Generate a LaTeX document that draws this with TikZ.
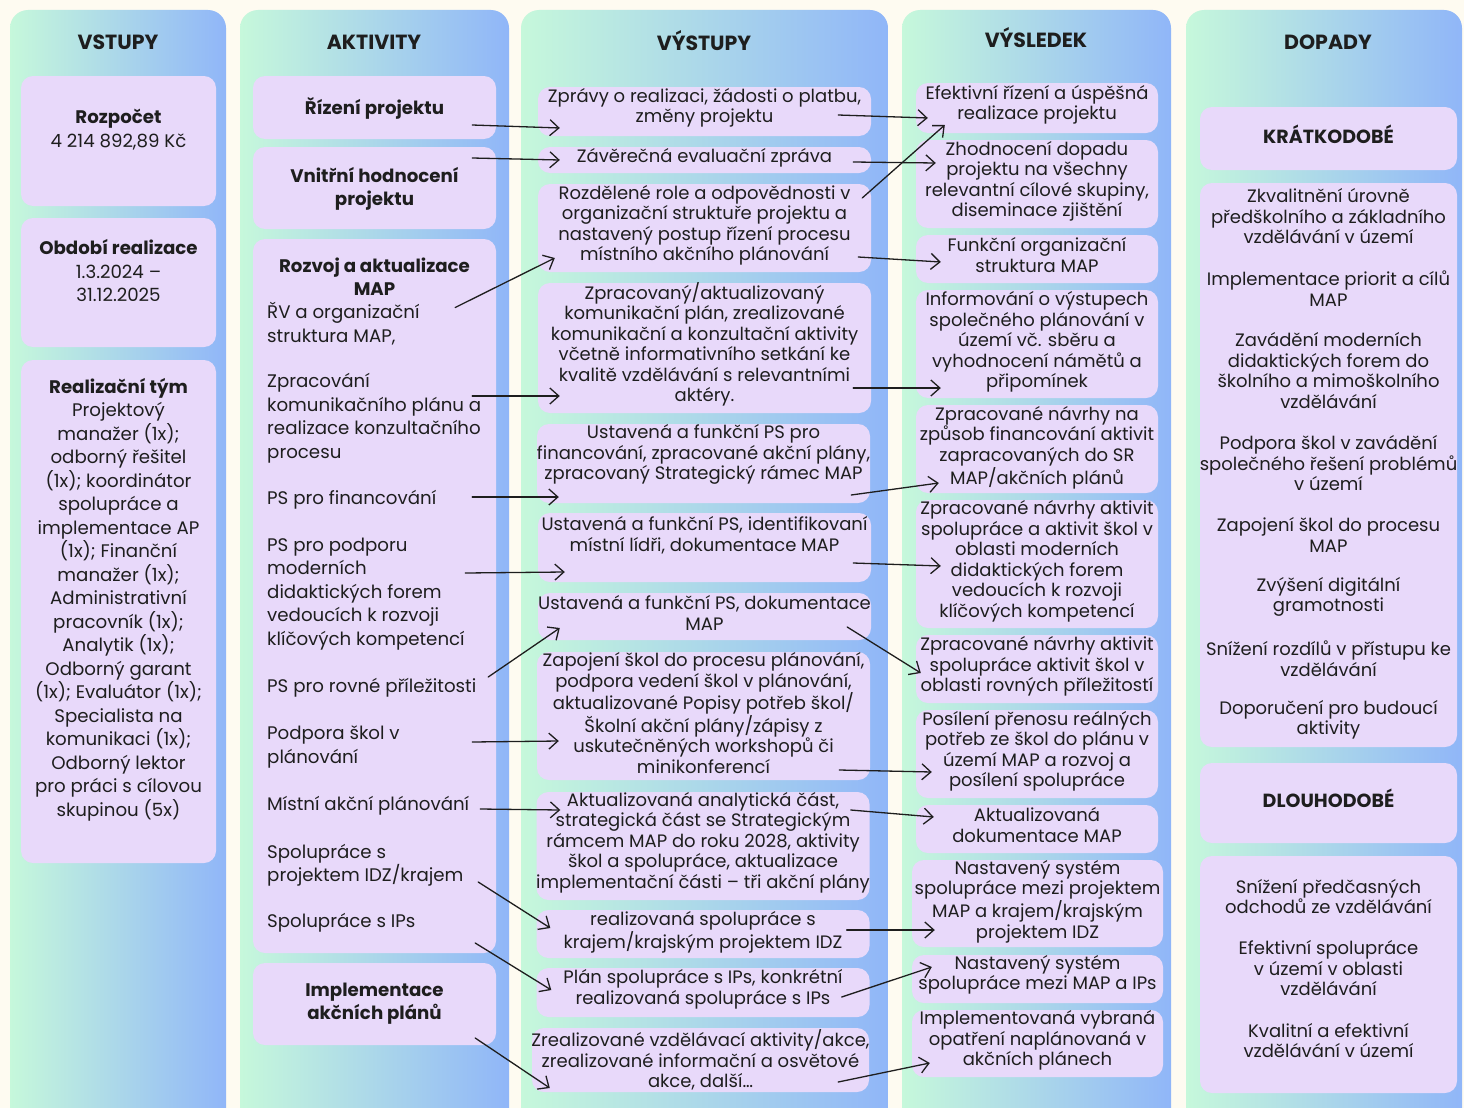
\documentclass[tikz,border=0pt]{standalone}
\usepackage{fontspec}
\setmainfont{Poppins}
\usetikzlibrary{positioning,arrows.meta,calc}

\definecolor{bgcream}{HTML}{FEFBF1}
\definecolor{colgreen}{HTML}{C6F8DB}
\definecolor{colblue}{HTML}{90B6F8}
\definecolor{boxlilac}{HTML}{E8D9FA}
\definecolor{inkgray}{HTML}{1E1E1E}

\tikzset{
  column/.style={left color=colgreen, right color=colblue, rounded corners=18pt},
  box/.style={fill=boxlilac, rounded corners=12pt, inner sep=0pt},
  txt/.style={align=center, inner sep=0pt, yshift=-2pt, text=inkgray, font=\fontsize{18}{20.5}\selectfont},
  bigtxt/.style={txt, font=\fontsize{18.2}{23.5}\selectfont},
  item/.style={bigtxt, align=left, anchor=west},
  head/.style={inner sep=0pt, text=inkgray, font=\fontsize{20.5}{22}\selectfont\bfseries},
  sketch/.style={-{Straight Barb[length=9pt,width=16pt]}, line width=1.3pt, draw=inkgray, line cap=round}
}

\begin{document}
\begin{tikzpicture}[x=1pt,y=-1pt]
\fill[bgcream] (0,0) rectangle (1464,1108);
\clip (0,0) rectangle (1464,1108);

% columns
\shade[column] (10,10) rectangle (226,1140);
\shade[column] (240,10) rectangle (509,1140);
\shade[column] (521,10) rectangle (888,1140);
\shade[column] (902,10) rectangle (1171,1140);
\shade[column] (1186,10) rectangle (1462,1140);

\node[head] (hin) at (118,42) {VSTUPY};
\node[head] (hakt) at (374,42) {AKTIVITY};
\node[head] (hout) at (704,40.5) {VÝSTUPY};
\node[head] (hres) at (1036,37.5) {VÝSLEDEK};
\node[head] (himp) at (1328,42) {DOPADY};

% vstupy
\node[box, minimum width=195pt, minimum height=130pt] (in1) at (118.5,141) {};
\node[bigtxt] (in1t) at (118.5,127.5) {\textbf{Rozpočet}\\4 214 892,89 Kč};
\node[box, minimum width=195pt, minimum height=129pt] (in2) at (118.5,282.5) {};
\node[bigtxt] (in2t) at (118.5,268.5) {\textbf{Období realizace}\\1.3.2024 –\\31.12.2025};
\node[box, minimum width=195pt, minimum height=503pt] (in3) at (118.5,611.5) {};
\node[bigtxt] (in3t) at (118.5,597.5) {\textbf{Realizační tým}\\Projektový\\manažer (1x);\\odborný řešitel\\(1x); koordinátor\\spolupráce a\\implementace AP\\(1x); Finanční\\manažer (1x);\\Administrativní\\pracovník (1x);\\Analytik (1x);\\Odborný garant\\(1x); Evaluátor (1x);\\Specialista na\\komunikaci (1x);\\Odborný lektor\\pro práci s cílovou\\skupinou (5x)};

% aktivity
\node[box, minimum width=243pt, minimum height=63pt] (a1) at (374.5,107.5) {};
\node[bigtxt] (a1t) at (374.5,106) {\textbf{Řízení projektu}};
\node[box, minimum width=243pt, minimum height=82pt] (a2) at (374.5,188) {};
\node[bigtxt] (a2t) at (374.5,187) {\textbf{Vnitřní hodnocení}\\\textbf{projektu}};
\node[box, minimum width=243pt, minimum height=714pt] (a3) at (374.5,596) {};
\node[bigtxt] (a3t) at (374.5,274.5) {\textbf{Rozvoj a aktualizace}\\\textbf{MAP}};
\node[item] (i1) at (267,321.5) {ŘV a organizační\\struktura MAP,};
\node[item] (i2) at (267,416) {Zpracování\\komunikačního plánu a\\realizace konzultačního\\procesu};
\node[item] (i3) at (267,498) {PS pro financování};
\node[item] (i4) at (267,592) {PS pro podporu\\moderních\\didaktických forem\\vedoucích k rozvoji\\klíčových kompetencí};
\node[item] (i5) at (267,686) {PS pro rovné příležitosti};
\node[item] (i6) at (267,745) {Podpora škol v\\plánování};
\node[item] (i7) at (267,804) {Místní akční plánování};
\node[item] (i8) at (267,863) {Spolupráce s\\projektem IDZ/krajem};
\node[item] (i9) at (267,921) {Spolupráce s IPs};
\node[box, minimum width=243pt, minimum height=82pt] (a4) at (374.5,1004) {};
\node[bigtxt] (a4t) at (374.5,1001.5) {\textbf{Implementace}\\\textbf{akčních plánů}};

% vystupy
\node[box, minimum width=333pt, minimum height=49pt] (o1) at (704.5,111.5) {};
\node[txt] (o1t) at (704.5,106) {Zprávy o realizaci, žádosti o platbu,\\změny projektu};
\node[box, minimum width=333pt, minimum height=26pt] (o2) at (704.5,160) {};
\node[txt] (o2t) at (704.5,155.5) {Závěrečná evaluační zpráva};
\node[box, minimum width=333pt, minimum height=88pt] (o3) at (704.5,228) {};
\node[txt] (o3t) at (704.5,223.5) {Rozdělené role a odpovědnosti v\\organizační struktuře projektu a\\nastavený postup řízení procesu\\místního akčního plánování};
\node[box, minimum width=333pt, minimum height=130pt] (o4) at (704.5,348) {};
\node[txt] (o4t) at (704.5,342.5) {Zpracovaný/aktualizovaný\\komunikační plán, zrealizované\\komunikační a konzultační aktivity\\včetně informativního setkání ke\\kvalitě vzdělávání s relevantními\\aktéry.};
\node[box, minimum width=333pt, minimum height=79pt] (o5) at (703.5,463.5) {};
\node[txt] (o5t) at (703.5,452.5) {Ustavená a funkční PS pro\\financování, zpracované akční plány,\\zpracovaný Strategický rámec MAP};
\node[box, minimum width=333pt, minimum height=69pt] (o6) at (704.5,547.5) {};
\node[txt] (o6t) at (704.5,533) {Ustavená a funkční PS, identifikovaní\\místní lídři, dokumentace MAP};
\node[box, minimum width=333pt, minimum height=47pt] (o7) at (704.5,616.5) {};
\node[txt] (o7t) at (704.5,611) {Ustavená a funkční PS, dokumentace\\MAP};
\node[box, minimum width=333pt, minimum height=128pt] (o8) at (703.5,716) {};
\node[txt] (o8t) at (703.5,711) {Zapojení škol do procesu plánování,\\podpora vedení škol v plánování,\\aktualizované Popisy potřeb škol/\\Školní akční plány/zápisy z\\uskutečněných workshopů či\\minikonferencí};
\node[box, minimum width=333pt, minimum height=108pt] (o9) at (703,846) {};
\node[txt] (o9t) at (703,840.5) {Aktualizovaná analytická část,\\strategická část se Strategickým\\rámcem MAP do roku 2028, aktivity\\škol a spolupráce, aktualizace\\implementační části – tři akční plány};
\node[box, minimum width=333pt, minimum height=48pt] (o10) at (703,934) {};
\node[txt] (o10t) at (703,930) {realizovaná spolupráce s\\krajem/krajským projektem IDZ};
\node[box, minimum width=333pt, minimum height=49pt] (o11) at (703,992.5) {};
\node[txt] (o11t) at (703,987.5) {Plán spolupráce s IPs, konkrétní\\realizovaná spolupráce s IPs};
\node[box, minimum width=337pt, minimum height=64pt] (o12) at (700.5,1060) {};
\node[txt] (o12t) at (700.5,1058) {Zrealizované vzdělávací aktivity/akce,\\zrealizované informační a osvětové\\akce, další…};

% vysledek
\node[box, minimum width=242pt, minimum height=50pt] (r1) at (1037,108) {};
\node[txt] (r1t) at (1037,103) {Efektivní řízení a úspěšná\\realizace projektu};
\node[box, minimum width=242pt, minimum height=88pt] (r2) at (1037,184) {};
\node[txt] (r2t) at (1037,179.5) {Zhodnocení dopadu\\projektu na všechny\\relevantní cílové skupiny,\\diseminace zjištění};
\node[box, minimum width=242pt, minimum height=48pt] (r3) at (1037,259) {};
\node[txt] (r3t) at (1037,253) {Funkční organizační\\struktura MAP};
\node[box, minimum width=242pt, minimum height=108pt] (r4) at (1037,344) {};
\node[txt] (r4t) at (1037,340) {Informování o výstupech\\společného plánování v\\území vč. sběru a\\vyhodnocení námětů a\\připomínek};
\node[box, minimum width=242pt, minimum height=88pt] (r5) at (1037,449) {};
\node[txt] (r5t) at (1037,445.5) {Zpracované návrhy na\\způsob financování aktivit\\zapracovaných do SR\\MAP/akčních plánů};
\node[box, minimum width=242pt, minimum height=128pt] (r6) at (1037,564) {};
\node[txt] (r6t) at (1037,559.5) {Zpracované návrhy aktivit\\spolupráce a aktivit škol v\\oblasti moderních\\didaktických forem\\vedoucích k rozvoji\\klíčových kompetencí};
\node[box, minimum width=242pt, minimum height=68pt] (r7) at (1037,669) {};
\node[txt] (r7t) at (1037,664.5) {Zpracované návrhy aktivit\\spolupráce aktivit škol v\\oblasti rovných příležitostí};
\node[box, minimum width=242pt, minimum height=88pt] (r8) at (1037,754) {};
\node[txt] (r8t) at (1037,749.5) {Posílení přenosu reálných\\potřeb ze škol do plánu v\\území MAP a rozvoj a\\posílení spolupráce};
\node[box, minimum width=242pt, minimum height=48pt] (r9) at (1037,829) {};
\node[txt] (r9t) at (1037,823) {Aktualizovaná\\dokumentace MAP};
\node[box, minimum width=251pt, minimum height=87pt] (r10) at (1037.5,903.5) {};
\node[txt] (r10t) at (1037.5,899.5) {Nastavený systém\\spolupráce mezi projektem\\MAP a krajem/krajským\\projektem IDZ};
\node[box, minimum width=251pt, minimum height=48pt] (r11) at (1037.5,979) {};
\node[txt] (r11t) at (1037.5,973) {Nastavený systém\\spolupráce mezi MAP a IPs};
\node[box, minimum width=251pt, minimum height=67pt] (r12) at (1037.5,1043.5) {};
\node[txt] (r12t) at (1037.5,1038.5) {Implementovaná vybraná\\opatření naplánovaná v\\akčních plánech};

% dopady
\node[box, minimum width=257pt, minimum height=63pt] (d1) at (1328.5,138.5) {};
\node[txt, font=\fontsize{19}{20.5}\selectfont\bfseries] (d1t) at (1328.5,132) {KRÁTKODOBÉ};
\node[box, minimum width=257pt, minimum height=564pt] (d2) at (1328.5,465) {};
\node[txt] (k1) at (1328.5,214.5) {Zkvalitnění úrovně\\předškolního a základního\\vzdělávání v území};
\node[txt] (k2) at (1328.5,286.5) {Implementace priorit a cílů\\MAP};
\node[txt] (k3) at (1328.5,368.5) {Zavádění moderních\\didaktických forem do\\školního a mimoškolního\\vzdělávání};
\node[txt] (k4) at (1328.5,461.5) {Podpora škol v zavádění\\společného řešení problémů\\v území};
\node[txt] (k5) at (1328.5,533) {Zapojení škol do procesu\\MAP};
\node[txt] (k6) at (1328.5,595) {Zvýšení digitální\\gramotnosti};
\node[txt] (k7) at (1328.5,656.5) {Snížení rozdílů v přístupu ke\\vzdělávání};
\node[txt] (k8) at (1328.5,718) {Doporučení pro budoucí\\aktivity};
\node[box, minimum width=257pt, minimum height=80pt] (d3) at (1328.5,803) {};
\node[txt, font=\fontsize{19}{20.5}\selectfont\bfseries] (d3t) at (1328.5,796) {DLOUHODOBÉ};
\node[box, minimum width=257pt, minimum height=237pt] (d4) at (1328.5,974.5) {};
\node[txt] (l1) at (1328.5,894.5) {Snížení předčasných\\odchodů ze vzdělávání};
\node[txt] (l2) at (1328.5,966.5) {Efektivní spolupráce\\v území v oblasti\\vzdělávání};
\node[txt] (l3) at (1328.5,1038.5) {Kvalitní a efektivní\\vzdělávání v území};

% aktivity -> vystupy
\draw[sketch] ([shift={(-24,17.5)}]a1.east) -- ([shift={(22,16.5)}]o1.west);
\draw[sketch] ([shift={(-24,-30)}]a2.east) -- ([shift={(22,0)}]o2.west);
\draw[sketch] ($(a3.east |- i1)+(-41,-16)$) -- ([shift={(17,30)}]o3.west);
\draw[sketch] ($(a3.east |- i2)+(-24,-22)$) -- ([shift={(22,48)}]o4.west);
\draw[sketch] ($(a3.east |- i3)+(-24,-3)$) -- ([shift={(22,33.5)}]o5.west);
\draw[sketch] ($(a3.east |- i4)+(-31,-21)$) -- ([shift={(27,24.5)}]o6.west);
\draw[sketch] ($(a3.east |- i5)+(-8,-11)$) -- ([shift={(22,11.5)}]o7.west);
\draw[sketch] ($(a3.east |- i6)+(-24,-5)$) -- ([shift={(22,25)}]o8.west);
\draw[sketch] ($(a3.east |- i7)+(-16,3)$) -- ([shift={(24,-36)}]o9.west);
\draw[sketch] ($(a3.east |- i8)+(-18,17)$) -- ([shift={(14,-6)}]o10.west);
\draw[sketch] ($(a3.east |- i9)+(-21,20)$) -- ([shift={(15,-2.5)}]o11.west);
\draw[sketch] ([shift={(-21,34)}]a4.east) -- ([shift={(18,28)}]o12.west);

% vystupy -> vysledek
\draw[sketch] ([shift={(-33,3.5)}]o1.east) -- ([shift={(12,10)}]r1.west);
\draw[sketch] ([shift={(-18,2)}]o2.east) -- ([shift={(20,-21)}]r2.west);
\draw[sketch] ([shift={(-9,-30)}]o3.east) -- ([shift={(29,17)}]r1.west);
\draw[sketch] ([shift={(-13,29)}]o3.east) -- ([shift={(25,3)}]r3.west);
\draw[sketch] ([shift={(-18,40)}]o4.east) -- ([shift={(25,44)}]r4.west);
\draw[sketch] ([shift={(-19,31.5)}]o5.east) -- ([shift={(23,34)}]r5.west);
\draw[sketch] ([shift={(-18,15.5)}]o6.east) -- ([shift={(25,2)}]r6.west);
\draw[sketch] ([shift={(-24,10.5)}]o7.east) -- ([shift={(5,4)}]r7.west);
\draw[sketch] ([shift={(-31,54)}]o8.east) -- ([shift={(16,18)}]r8.west);
\draw[sketch] ([shift={(-19,-36)}]o9.east) -- ([shift={(18,-12)}]r9.west);
\draw[sketch] ([shift={(-23,-4)}]o10.east) -- ([shift={(23,26.5)}]r10.west);
\draw[sketch] ([shift={(-28,4.5)}]o11.east) -- ([shift={(20,-12)}]r11.west);
\draw[sketch] ([shift={(-31,22)}]o12.east) -- ([shift={(18,19.5)}]r12.west);
\end{tikzpicture}
\end{document}
